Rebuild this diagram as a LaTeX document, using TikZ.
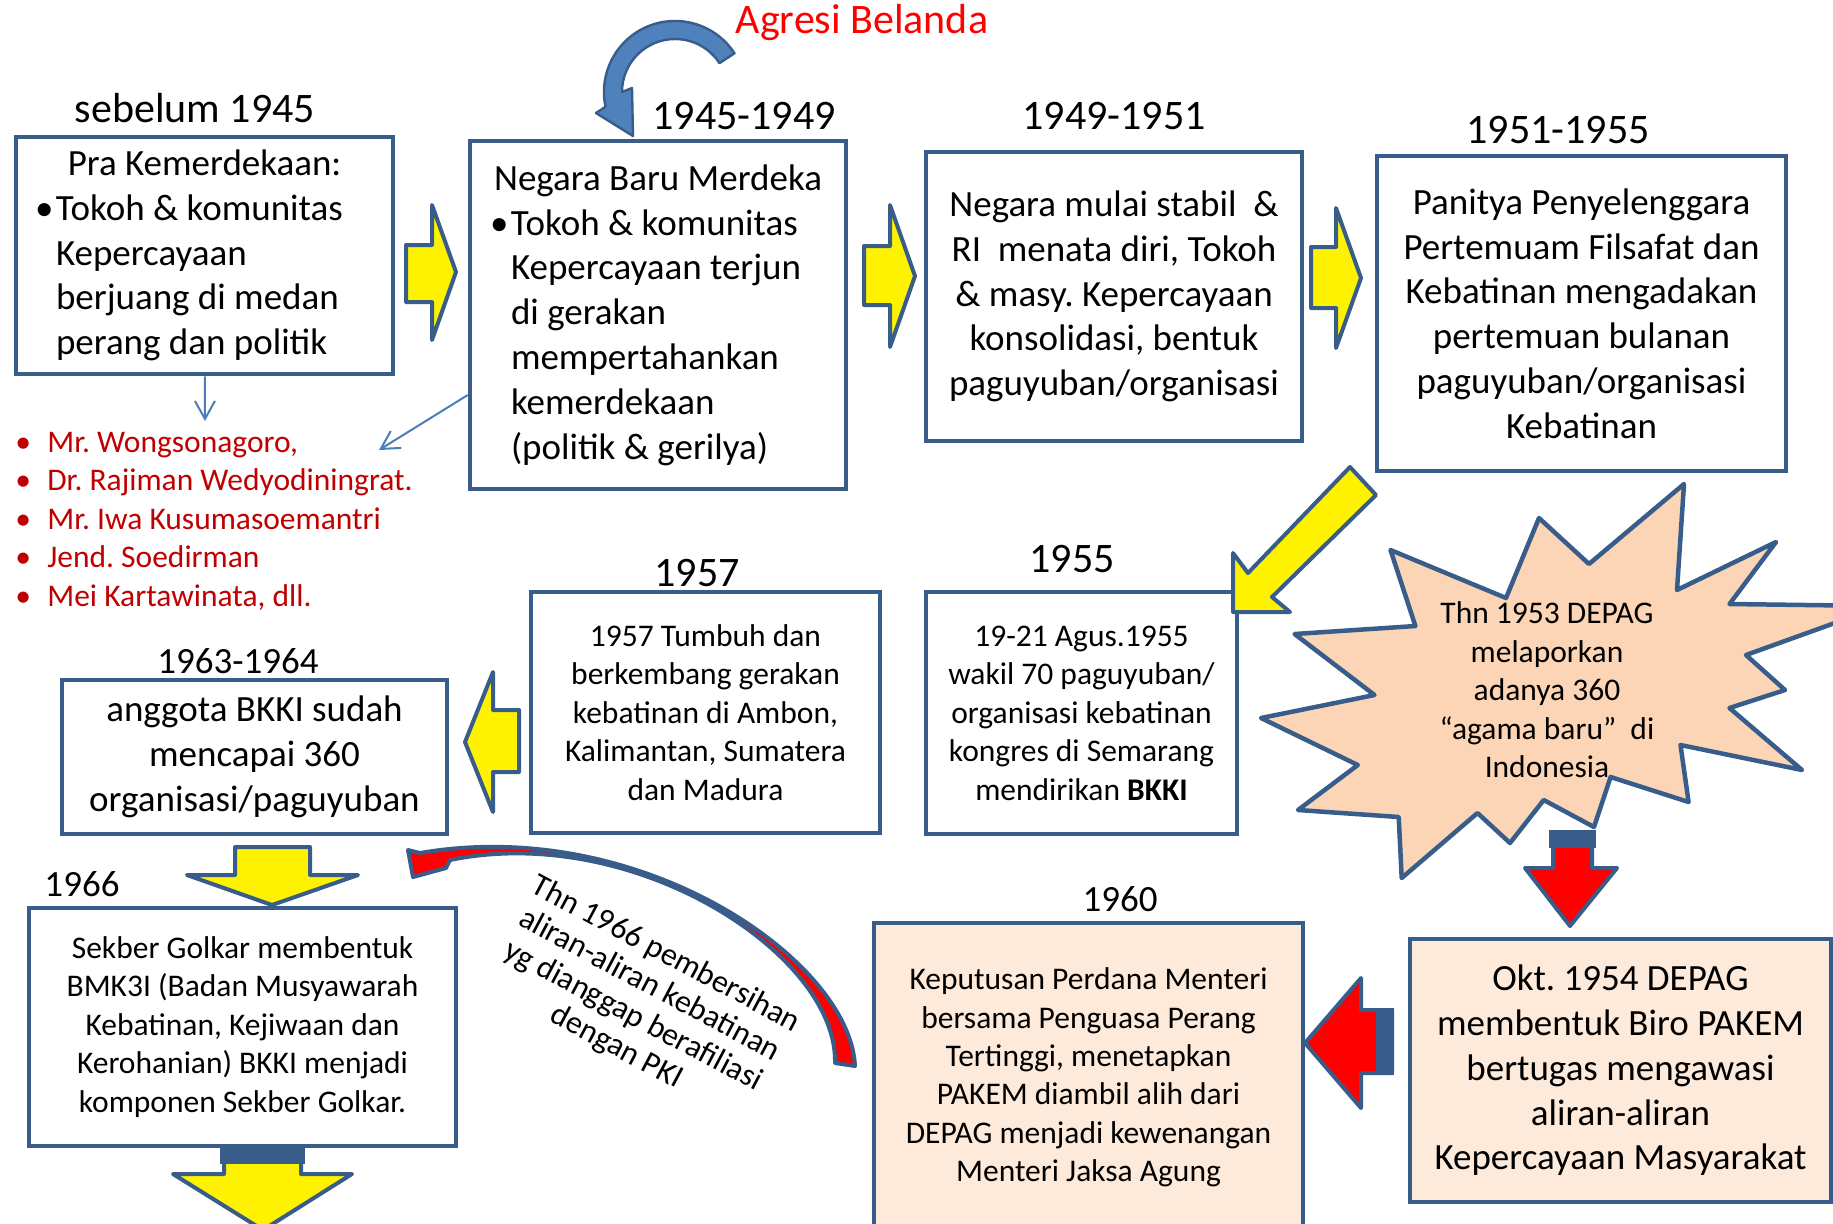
\documentclass[tikz,border=0pt]{standalone}
\usepackage{fontspec}
\setmainfont{Carlito}
\usetikzlibrary{positioning,arrows.meta,calc}
\definecolor{edgeblue}{RGB}{56,93,138}
\definecolor{lineblue}{RGB}{74,126,187}
\definecolor{bodyblue}{RGB}{79,129,189}
\definecolor{burstpeach}{RGB}{251,213,181}
\definecolor{softpeach}{RGB}{253,234,218}
\definecolor{listred}{RGB}{192,0,0}
\newcommand\fbig{\fontsize{18.5pt}{22.4pt}\selectfont}
\newcommand\fsmall{\fontsize{15.75pt}{19.25pt}\selectfont}
\newcommand\frot{\fontsize{16pt}{17.5pt}\selectfont}
\newcommand\fyear{\fontsize{21pt}{25pt}\selectfont}
\newcommand\fyearsm{\fontsize{18.5pt}{22pt}\selectfont}
\newcommand\bul[1]{\makebox[#1][l]{\textbullet}}
\frenchspacing
\tikzset{
  every node/.style={inner sep=0pt},
  box/.style={draw=edgeblue, line width=2.25pt, fill=white, align=center, font=\fbig},
  year/.style={font=\fyear},
  blk/.style={draw=edgeblue, line width=2pt, fill=yellow, line join=round},
  redblk/.style={draw=edgeblue, line width=2pt, fill=red, line join=round},
  thin/.style={draw=lineblue, line width=1pt, -{Straight Barb[length=9pt,width=10pt]}}
}
\begin{document}
\begin{tikzpicture}[x=0.5pt, y=-0.5pt]
\useasboundingbox (0,0) rectangle (1833,1223);

% year labels
\node[font=\fyear, text=red] (agresi) at (862,23) {Agresi Belanda};
\node[year] (ySebelum) at (195,108) {sebelum 1945};
\node[year] (y4549) at (744,116) {1945-1949};
\node[year] (y4951) at (1114,116) {1949-1951};
\node[year] (y5155) at (1558,130) {1951-1955};
\node[year] (y1955) at (1072,559) {1955};
\node[year] (y1957) at (697,573) {1957};
\node[year, font=\fyearsm] (y6364) at (238,661) {1963-1964};
\node[year, font=\fyearsm] (y1966) at (82,884) {1966};
\node[year, font=\fyearsm] (y1960) at (1120,899) {1960};

% top row
\node[box, minimum width=188.5pt, minimum height=118.5pt, align=left] (pra) at (204.5,255.5) {%
  \makebox[169.5pt]{Pra Kemerdekaan:}\\
  \bul{10.5pt}Tokoh \& komunitas\\
  \hspace*{10.5pt}Kepercayaan\\
  \hspace*{10.5pt}berjuang di medan\\
  \hspace*{10.5pt}perang dan politik};

\node[box, minimum width=188pt, minimum height=174pt, align=left] (merdeka) at (658,315) {%
  \makebox[170pt]{Negara Baru Merdeka}\\
  \hspace*{1pt}\bul{10.5pt}Tokoh \& komunitas\\
  \hspace*{11.5pt}Kepercayaan terjun\\
  \hspace*{11.5pt}di gerakan\\
  \hspace*{11.5pt}mempertahankan\\
  \hspace*{11.5pt}kemerdekaan\\
  \hspace*{11.5pt}(politik \& gerilya)};

\node[box, minimum width=188pt, minimum height=144.5pt] (stabil) at (1114,296.5) {%
  Negara mulai stabil\ \ \&\\RI\ \ menata diri, Tokoh\\\& masy. Kepercayaan\\konsolidasi, bentuk\\paguyuban/organisasi};

\node[box, minimum width=204.5pt, minimum height=157.5pt] (panitya) at (1581.5,313.5) {%
  Panitya Penyelenggara\\Pertemuam Filsafat dan\\Kebatinan mengadakan\\pertemuan bulanan\\paguyuban/organisasi\\Kebatinan};

% middle row
\node[box, font=\fsmall, minimum width=155.5pt, minimum height=121pt] (kongres) at (1081.5,713) {%
  19-21 Agus.1955\\wakil 70 paguyuban/\\organisasi kebatinan\\kongres di Semarang\\mendirikan \textbf{BKKI}};

\node[box, font=\fsmall, minimum width=174.5pt, minimum height=120.5pt] (tumbuh) at (705.5,712.5) {%
  1957 Tumbuh dan\\berkembang gerakan\\kebatinan di Ambon,\\Kalimantan, Sumatera\\dan Madura};

\node[box, minimum width=192.5pt, minimum height=77pt] (anggota) at (254.5,757) {%
  anggota BKKI sudah\\mencapai 360\\organisasi/paguyuban};

\node[font=\fsmall, text=listred, align=left, anchor=west] (tokoh) at (15,521) {%
  \bul{16pt}Mr. Wongsonagoro,\\
  \bul{16pt}Dr. Rajiman Wedyodiningrat.\\
  \bul{16pt}Mr. Iwa Kusumasoemantri\\
  \bul{16pt}Jend. Soedirman\\
  \bul{16pt}Mei Kartawinata, dll.};

% bottom row
\node[box, font=\fsmall, minimum width=213.5pt, minimum height=119pt] (sekber) at (242.5,1027) {%
  Sekber Golkar membentuk\\BMK3I (Badan Musyawarah\\Kebatinan, Kejiwaan dan\\Kerohanian) BKKI menjadi\\komponen Sekber Golkar.};

\node[box, font=\fsmall, fill=softpeach, minimum width=214.5pt, minimum height=154.5pt] (keputusan) at (1088.5,1077.5) {%
  Keputusan Perdana Menteri\\bersama Penguasa Perang\\Tertinggi, menetapkan\\PAKEM diambil alih dari\\DEPAG menjadi kewenangan\\Menteri Jaksa Agung};

\node[box, fill=softpeach, minimum width=210.5pt, minimum height=131.5pt] (pakem) at (1620.5,1070.5) {%
  Okt. 1954 DEPAG\\membentuk Biro PAKEM\\bertugas mengawasi\\aliran-aliran\\Kepercayaan Masyarakat};

% starburst
\filldraw[fill=burstpeach, draw=edgeblue, line width=2.25pt, line join=round]
  (1390.5,550) -- (1506,598) -- (1539,518) -- (1589,564) -- (1684,484) -- (1677,590)
  -- (1776,542) -- (1729.5,604) -- (1882,606) -- (1746,655) -- (1785,690) -- (1729.5,708)
  -- (1802,770) -- (1680.5,745) -- (1688.6,802) -- (1610.6,777) -- (1594,827) -- (1543.7,800)
  -- (1510,843) -- (1477.5,813) -- (1401.7,878) -- (1398.7,817) -- (1298,810) -- (1357.8,765)
  -- (1261,718) -- (1374.5,695) -- (1294.6,634) -- (1415.4,626) -- cycle;
\node[font=\fsmall, align=center] (burst) at (1547,690) {%
  Thn 1953 DEPAG\\melaporkan\\adanya 360\\“agama baru”\ \ di\\Indonesia};

% thin arrows to the list
\coordinate (listTop) at (205,421);
\coordinate (listSide) at (379,450);
\draw[thin] (pra) -- (listTop);
\draw[thin] ([yshift=-40pt]merdeka.west) -- (listSide);

% block arrows
\draw[blk] (406,245) -- (432,245) -- (432,205) -- (456,272) -- (432,340) -- (432,302) -- (406,302) -- cycle;
\draw[blk] (864,246) -- (890,246) -- (890,205) -- (915,276) -- (890,347) -- (890,305) -- (864,305) -- cycle;
\draw[blk] (1311,247) -- (1336,247) -- (1336,208) -- (1361,278) -- (1336,348) -- (1336,308) -- (1311,308) -- cycle;
\draw[blk] (1350,467) -- (1376,495) -- (1272,597) -- (1290,612) -- (1233,612) -- (1233,553) -- (1248,573) -- cycle;
\draw[blk] (519,710) -- (493,710) -- (493,672) -- (465,742) -- (493,812) -- (493,772) -- (519,772) -- cycle;
\draw[blk] (235,847) -- (310,847) -- (310,875) -- (358,875) -- (272,905) -- (187,875) -- (235,875) -- cycle;
\draw[blk] (224,1148) -- (301,1148) -- (301,1174) -- (352,1174) -- (263,1230) -- (173,1174) -- (224,1174) -- cycle;
\fill[edgeblue] (220,1146) rectangle (305,1164);

\draw[redblk] (1553,832) -- (1592,832) -- (1592,868) -- (1617,868) -- (1570,926) -- (1525,868) -- (1553,868) -- cycle;
\fill[edgeblue] (1549,830) rectangle (1596,848);
\draw[redblk] (1392,1010) -- (1361,1010) -- (1361,978) -- (1305,1043) -- (1361,1108) -- (1361,1073) -- (1392,1073) -- cycle;
\fill[edgeblue] (1376,1008) rectangle (1394,1075);

% curved arrows
\filldraw[fill=bodyblue, draw=edgeblue, line width=1.2pt, line join=round]
  (734.5,53.3) arc[start angle=-33, end angle=-192, radius=71]
  -- (596,113) -- (633,136) -- (632,88) -- (622,92)
  arc[start angle=-180, end angle=-33, radius=53] -- cycle;

\filldraw[fill=red, draw=edgeblue, line width=2pt, line join=round]
  (855,1066) .. controls (850,960) and (640,815) .. (420,853)
  -- (408,850) -- (413,877) -- (446,868) -- (450,860)
  .. controls (635,822) and (838,955) .. (835,1063) -- cycle;

\node[font=\frot, align=center, rotate=-28] (pembersihan) at (641,1001) {%
  Thn 1966 pembersihan\\aliran-aliran kebatinan\\yg dianggap berafiliasi\\dengan PKI};

\end{tikzpicture}
\end{document}
